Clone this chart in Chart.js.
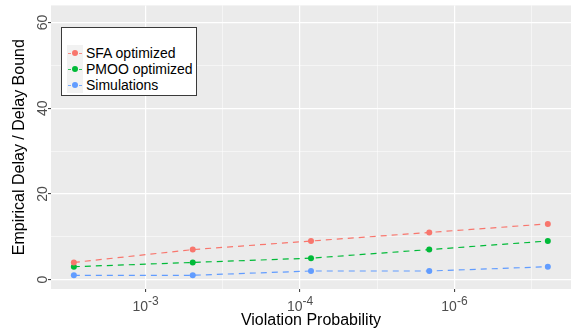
<!DOCTYPE html>
<html lang="en">
<head>
    <meta charset="UTF-8">
    <title>Empirical Delay / Delay Bound</title>
    <script src="https://cdn.jsdelivr.net/npm/chart.js"></script>
    <style>
        html, body { margin: 0; padding: 0; background: #fff; }
        body { font-family: 'Liberation Sans', Arial, sans-serif; }
        #wrap { position: relative; width: 574px; height: 333px; }
        #legend {
            position: absolute; left: 61px; top: 27px; width: 134px; height: 67px;
            border: 1.5px solid #3a3a3a; background: #fff;
        }
        .item { position: absolute; left: 5px; height: 16px; font-size: 14px; line-height: 16px; color: #000; white-space: nowrap; }
        .key { position: absolute; left: 0; top: 0; width: 16px; height: 16px; background: #f2f2f2; }
        .key .ln { position: absolute; left: 1px; right: 1px; top: 7.5px; border-top: 1px dashed; opacity: 0.8; }
        .key .pt { position: absolute; left: 5px; top: 5px; width: 6px; height: 6px; border-radius: 50%; }
        .item span.lbl { position: absolute; left: 19px; top: 0; }
    </style>
</head>
<body>
<div id="wrap">
    <canvas id="chart" width="574" height="333"></canvas>
    <div id="legend"></div>
</div>
<script>
// -log10 of violation probability for each measured point
const violationExp = [2.535, 3.305, 4.071, 4.837, 5.605];
const sfaOptimized = [4, 7, 9, 11, 13];
const pmooOptimized = [3, 4, 5, 7, 9];
const simulations = [1, 1, 2, 2, 3];

const seriesNames = ['SFA optimized', 'PMOO optimized', 'Simulations'];
const seriesColors = ['#F8766D', '#00BA38', '#619CFF'];

const xTickPositions = [3, 4, 5];
const xTickBase = '10';
const xTickExps = ['-3', '-4', '-6'];
const xGridPositions = [3, 3.5, 4, 4.5, 5, 5.5];
const yGridPositions = [0, 10, 20, 30, 40, 50, 60];
const yTickLabels = ['0', '20', '40', '60'];

const seriesValues = [sfaOptimized, pmooOptimized, simulations];

const datasets = seriesValues.map((vals, i) => ({
    label: seriesNames[i],
    data: vals.map((v, j) => ({ x: violationExp[j], y: v })),
    borderColor: seriesColors[i],
    backgroundColor: seriesColors[i],
    borderWidth: 1.2,
    borderDash: [6, 5],
    pointRadius: 3,
    pointHoverRadius: 3,
    pointBorderWidth: 0,
    tension: 0
}));

// grey panel behind the grid
const panelBg = {
    id: 'panelBg',
    beforeDraw(chart) {
        const a = chart.chartArea, ctx = chart.ctx;
        ctx.save();
        ctx.fillStyle = '#EBEBEB';
        ctx.fillRect(a.left, a.top, a.right - a.left, a.bottom - a.top);
        ctx.restore();
    }
};

// x tick labels as base + raised exponent
const powerLabels = {
    id: 'powerLabels',
    afterDraw(chart) {
        const sx = chart.scales.x, ctx = chart.ctx;
        const baseY = sx.top + 22;
        ctx.save();
        ctx.fillStyle = '#4D4D4D';
        ctx.textBaseline = 'alphabetic';
        ctx.textAlign = 'left';
        xTickPositions.forEach((v, i) => {
            const px = sx.getPixelForValue(v);
            ctx.font = '14px "Liberation Sans"';
            const wb = ctx.measureText(xTickBase).width;
            ctx.font = '12px "Liberation Sans"';
            const we = ctx.measureText(xTickExps[i]).width;
            const x0 = px - (wb + we) / 2;
            ctx.font = '14px "Liberation Sans"';
            ctx.fillText(xTickBase, x0, baseY);
            ctx.font = '12px "Liberation Sans"';
            ctx.fillText(xTickExps[i], x0 + wb, baseY - 6);
        });
        ctx.restore();
    }
};

const isMajorX = v => xTickPositions.includes(v);
const isMajorY = v => v % 20 === 0;

new Chart(document.getElementById('chart'), {
    type: 'line',
    data: { datasets },
    plugins: [panelBg, powerLabels],
    options: {
        responsive: false,
        animation: false,
        events: [],
        layout: { padding: { top: 5, right: 1, left: 0, bottom: 0 } },
        plugins: { legend: { display: false }, tooltip: { enabled: false } },
        scales: {
            x: {
                type: 'linear',
                min: 2.387,
                max: 5.755,
                afterBuildTicks: s => { s.ticks = xGridPositions.map(v => ({ value: v })); },
                afterFit: s => { s.height = 44; },
                border: { display: false },
                grid: {
                    color: '#FFFFFF',
                    lineWidth: c => isMajorX(c.tick.value) ? 1.2 : 0.5,
                    tickLength: 3,
                    tickWidth: 1,
                    tickColor: c => isMajorX(c.tick.value) ? '#333333' : 'rgba(0,0,0,0)'
                },
                ticks: {
                    autoSkip: false,
                    maxRotation: 0,
                    callback: () => ''
                },
                title: {
                    display: true,
                    text: 'Violation Probability',
                    color: '#000',
                    font: { family: 'Liberation Sans', size: 16 },
                    padding: { top: 0, bottom: 3 }
                }
            },
            y: {
                type: 'linear',
                min: -2.2,
                max: 64,
                afterBuildTicks: s => { s.ticks = yGridPositions.map(v => ({ value: v })); },
                afterFit: s => { s.width = 51; },
                border: { display: false },
                grid: {
                    color: '#FFFFFF',
                    lineWidth: c => isMajorY(c.tick.value) ? 1.2 : 0.5,
                    tickLength: 3,
                    tickWidth: 1,
                    tickColor: c => isMajorY(c.tick.value) ? '#333333' : 'rgba(0,0,0,0)'
                },
                ticks: {
                    minRotation: 90,
                    maxRotation: 90,
                    crossAlign: 'center',
                    padding: -3,
                    color: '#4D4D4D',
                    font: { family: 'Liberation Sans', size: 14 },
                    callback: v => yTickLabels.includes(String(v)) ? String(v) : ''
                },
                title: {
                    display: true,
                    text: 'Empirical Delay / Delay Bound',
                    color: '#000',
                    font: { family: 'Liberation Sans', size: 16 },
                    padding: { top: 10, bottom: 0 }
                }
            }
        }
    }
});

// legend box
const legend = document.getElementById('legend');
seriesNames.forEach((name, i) => {
    const item = document.createElement('div');
    item.className = 'item';
    item.style.top = (17 + i * 16) + 'px';
    item.innerHTML = '<div class="key"><div class="ln" style="border-color:' + seriesColors[i] +
        '"></div><div class="pt" style="background:' + seriesColors[i] + '"></div></div><span class="lbl">' + name + '</span>';
    legend.appendChild(item);
});
</script>
</body>
</html>
